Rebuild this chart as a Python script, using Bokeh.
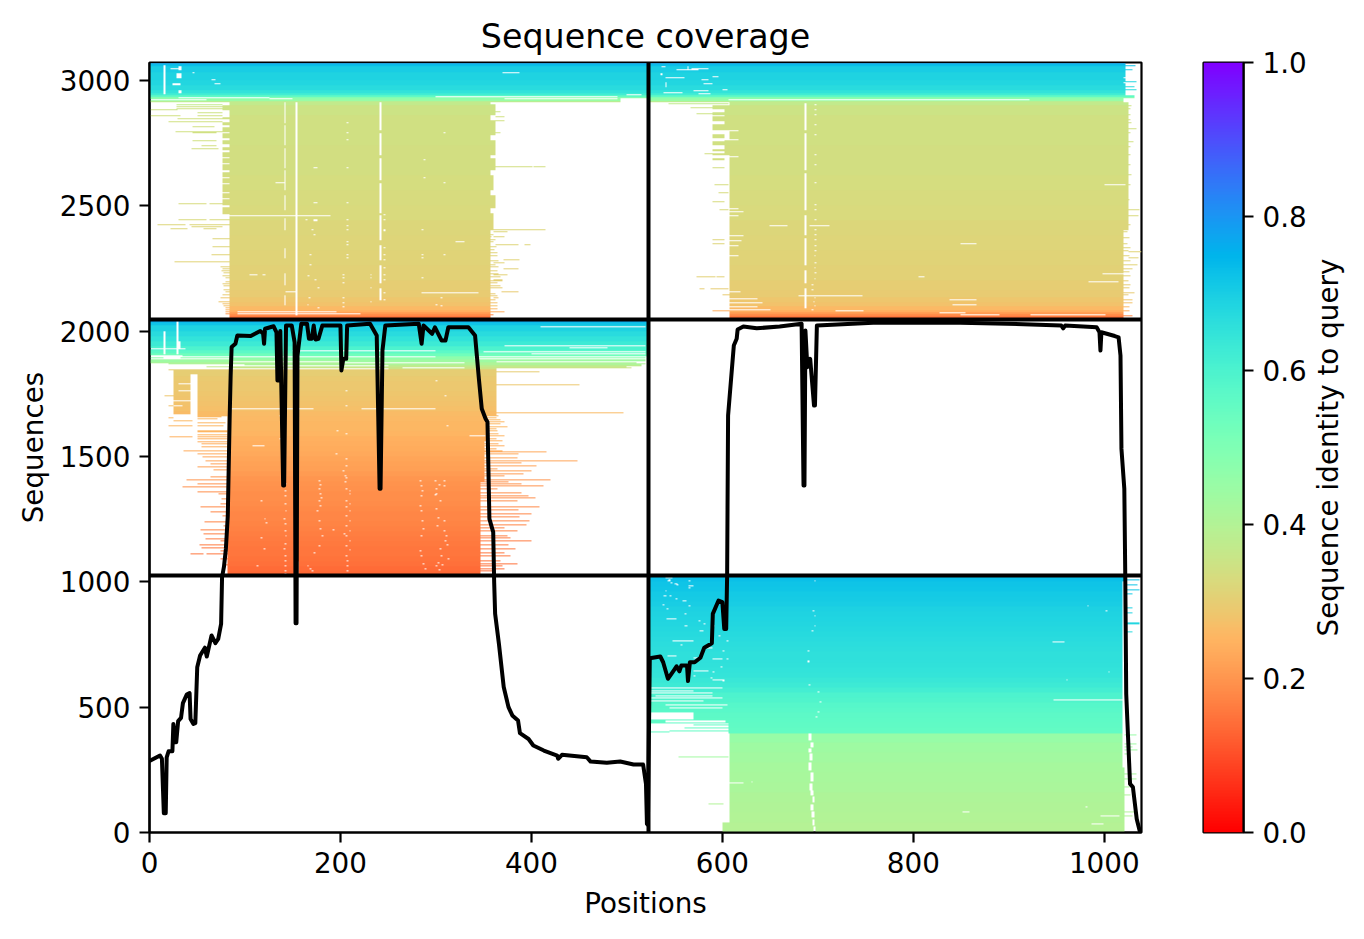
import math

import numpy as np
from bokeh.core.properties import value
from bokeh.embed import file_html
from bokeh.layouts import row
from bokeh.models import FixedTicker, LinearAxis, LinearColorMapper, Range1d
from bokeh.plotting import figure
from bokeh.resources import INLINE

N_POSITIONS = 1039
N_SEQUENCES = 3072
ROW_STEP = 4  # one picture pixel is about four sequences

X_TICKS = [0, 200, 400, 600, 800, 1000]
Y_TICKS = [0, 500, 1000, 1500, 2000, 2500, 3000]
BAR_TICKS = [0.0, 0.2, 0.4, 0.6, 0.8, 1.0]

CHAIN_BREAKS = [523]
CLUSTER_BREAKS = [1024, 2046]

# identity of the sequences, per band of rows (upper edge of band, identity)
BAND_TOP_A = [40, 80, 120, 160, 200, 240, 280, 320, 360, 396,
              420, 440, 460, 480, 500, 520, 540, 560, 580, 600, 620, 640, 660, 680, 700, 720, 740, 760, 780,
              800, 820, 840, 860, 880, 900, 920, 940, 960, 980, 1000, 1024]
BAND_ID_A = [.395, .40, .405, .41, .415, .42, .425, .43, .44, .455,
             .557, .56, .565, .57, .575, .58, .59, .60, .615, .63, .64, .645, .65, .655, .658, .66, .663, .666, .67,
             .673, .677, .68, .685, .69, .695, .70, .705, .71, .715, .72, .73]
BAND_TOP_B = [1040, 1060, 1080, 1100, 1120, 1140, 1160, 1180, 1200, 1220, 1240, 1260, 1280, 1300, 1320, 1340,
              1360, 1380, 1400, 1420, 1440, 1460, 1480, 1500, 1520, 1540, 1560, 1580, 1600, 1620, 1640,
              1660, 1680, 1700, 1720, 1740, 1760, 1780, 1800, 1820, 1848, 1856, 1864, 1876, 1888, 1900,
              1912, 1924, 1940, 1960, 1980, 2000, 2022, 2034, 2047]
BAND_ID_B = [.135, .14, .145, .15, .153, .156, .16, .163, .166, .17, .173, .176, .179, .182, .185, .188,
             .19, .193, .197, .203, .21, .215, .22, .226, .232, .237, .242, .246, .25, .254, .257,
             .26, .265, .27, .275, .28, .283, .286, .288, .29, .30, .35, .37, .41, .44, .47,
             .53, .57, .60, .63, .65, .67, .69, .72, .77]
BAND_TOP_C = [2055, 2062, 2070, 2080, 2095, 2110, 2130, 2160, 2200, 2260, 2320, 2380, 2440, 2500, 2560,
              2620, 2680, 2740, 2800, 2860, 2900, 2913, 2922, 2932, 2938, 2945, 2960, 2980, 3000, 3030,
              3056, 3062, 3067, 3072]
BAND_ID_C = [.15, .18, .21, .24, .26, .275, .285, .295, .30, .305, .31, .315, .32, .325, .33,
             .333, .336, .338, .34, .343, .35, .37, .45, .47, .56, .62, .65, .67, .68, .69,
             .70, .73, .77, .80]

# covered blocks: (first seq, last seq, first position, last position)
FILL_C = [
    (2940, 3071, 0, 1022), (2928, 2940, 0, 1032), (2913, 2928, 0, 493), (2913, 2928, 523, 1020),
    (2047, 2913, 84, 357), (2400, 2913, 607, 1025), (2047, 2400, 607, 1020),
    # rough left and right edges of the first chain
    (2880, 2900, 76, 84), (2846, 2855, 76, 84), (2820, 2835, 76, 84), (2795, 2815, 76, 84),
    (2770, 2790, 76, 84), (2745, 2762, 76, 84), (2720, 2735, 76, 84), (2695, 2712, 76, 84),
    (2670, 2690, 76, 84), (2640, 2665, 76, 84), (2615, 2635, 76, 84), (2590, 2608, 76, 84),
    (2555, 2585, 76, 84), (2530, 2548, 76, 84), (2500, 2525, 76, 84), (2465, 2495, 76, 84),
    (2860, 2905, 357, 362), (2780, 2840, 357, 362), (2700, 2760, 357, 362), (2640, 2690, 357, 362),
    (2560, 2620, 357, 360), (2490, 2540, 357, 362), (2400, 2470, 357, 360),
    # rough edges of the second chain
    (2886, 2900, 590, 602), (2862, 2875, 590, 602), (2836, 2856, 590, 602), (2800, 2826, 590, 602),
    (2769, 2786, 590, 602), (2740, 2756, 590, 602), (2716, 2724, 590, 602), (2700, 2710, 590, 602),
    (2680, 2690, 590, 602), (2648, 2652, 590, 602), (2800, 2900, 602, 607), (2700, 2760, 602, 607),
]

# single rows of sequences that stick out: (seq, first position, last position)
ROWS_C = [
    (2900, 28, 76), (2892, 28, 76), (2884, 28, 76),
    (2880, 1, 29), (2871, 50, 76), (2859, 1, 32), (2859, 50, 76), (2847, 29, 76), (2835, 20, 76),
    (2815, 45, 68), (2795, 27, 76), (2791, 45, 70), (2759, 45, 70), (2739, 54, 70), (2727, 44, 72),
    (2507, 30, 60), (2507, 63, 84), (2440, 30, 60), (2440, 63, 90), (2420, 8, 38), (2420, 42, 84),
    (2412, 44, 76), (2404, 22, 40), (2404, 57, 70), (2364, 66, 84), (2332, 66, 84), (2300, 65, 84),
    (2275, 26, 84), (2252, 74, 84), (2244, 76, 84), (2236, 75, 84), (2228, 78, 84), (2218, 76, 84),
    (2208, 80, 84), (2195, 80, 84), (2184, 76, 84), (2176, 78, 84), (2160, 78, 84), (2152, 80, 84),
    (2140, 76, 84), (2128, 74, 84), (2112, 72, 84), (2104, 76, 84), (2096, 78, 84), (2088, 80, 84),
    (2080, 80, 84), (2074, 80, 92), (2064, 80, 92), (2056, 84, 92),
    (2875, 362, 368), (2853, 362, 372), (2837, 362, 372), (2790, 357, 368), (2655, 362, 401),
    (2655, 402, 415), (2400, 357, 415), (2392, 360, 375), (2375, 360, 372), (2343, 362, 386),
    (2343, 393, 399), (2281, 371, 388), (2270, 360, 372), (2244, 371, 387), (2222, 360, 375),
    (2200, 360, 370), (2152, 369, 387), (2130, 360, 366), (2072, 357, 372),
    (2380, 357, 360), (2372, 357, 358), (2360, 357, 362), (2352, 357, 360), (2332, 357, 363),
    (2320, 357, 361), (2308, 357, 364), (2296, 357, 365), (2276, 357, 366), (2262, 357, 362),
    (2252, 357, 366), (2236, 357, 364), (2226, 357, 366), (2212, 357, 368), (2196, 357, 370),
    (2188, 357, 364), (2176, 357, 368), (2168, 357, 370), (2144, 357, 362), (2136, 357, 364),
    (2120, 357, 362), (2108, 357, 364), (2096, 357, 365), (2084, 357, 364), (2060, 357, 360),
    (2906, 544, 606), (2890, 567, 590), (2866, 573, 590), (2707, 581, 590), (2583, 592, 606),
    (2551, 596, 606), (2515, 590, 602), (2483, 597, 606), (2363, 590, 602), (2347, 590, 602),
    (2212, 573, 593), (2212, 594, 602), (2164, 576, 581), (2164, 588, 606), (2140, 600, 607),
    (2079, 590, 607),
    (2898, 1025, 1029), (2884, 1025, 1028), (2860, 1025, 1027), (2840, 1025, 1028), (2828, 1025, 1029),
    (2806, 1025, 1034), (2790, 1025, 1028), (2755, 1025, 1031), (2735, 1025, 1027), (2700, 1025, 1028),
    (2660, 1025, 1027), (2620, 1025, 1029), (2580, 1025, 1028), (2520, 1025, 1026), (2480, 1025, 1037),
    (2459, 1022, 1036), (2420, 1025, 1028),
    (2312, 1025, 1040), (2288, 1025, 1036), (2260, 1020, 1035), (2150, 1020, 1032),
    (2120, 1020, 1030), (2092, 1020, 1026),
    (2392, 1020, 1024), (2368, 1020, 1026), (2344, 1020, 1024), (2330, 1020, 1027), (2316, 1020, 1025),
    (2296, 1020, 1026), (2276, 1020, 1028), (2244, 1020, 1030), (2232, 1020, 1026), (2216, 1020, 1027),
    (2196, 1020, 1025), (2180, 1020, 1028), (2168, 1020, 1026), (2140, 1020, 1025), (2108, 1020, 1030),
    (2076, 1020, 1026), (2056, 1020, 1030),
    (3056, 1022, 1033), (3040, 1022, 1030), (3008, 1022, 1032), (2995, 1022, 1034), (2975, 1022, 1032),
    (2960, 1022, 1034),
]

# holes in the coverage: (first seq, last seq, first position, last position)
GAPS_C = [
    # conserved gap columns
    (2060, 2915, 153, 155), (2800, 2915, 241, 243), (2700, 2790, 241, 243), (2600, 2690, 241, 243),
    (2470, 2590, 241, 243), (2360, 2460, 241, 243), (2280, 2340, 241, 243), (2190, 2260, 241, 243),
    (2120, 2170, 241, 243), (2830, 2915, 141, 142), (2740, 2820, 141, 142), (2650, 2730, 141, 142),
    (2560, 2640, 141, 142), (2480, 2540, 141, 142), (2400, 2450, 141, 142), (2290, 2330, 141, 142),
    (2180, 2230, 141, 142), (2100, 2140, 141, 142),
    (2800, 2910, 686, 688), (2640, 2790, 686, 688), (2480, 2630, 686, 688), (2380, 2460, 686, 688),
    (2260, 2370, 686, 688), (2190, 2240, 686, 688), (2090, 2170, 686, 688),
    # first chain, white rows
    (2456, 2460, 84, 190), (2074, 2078, 92, 196), (2064, 2068, 92, 221), (2150, 2154, 285, 345),
    (2152, 2156, 142, 153), (2590, 2594, 132, 141), (2353, 2357, 320, 330), (2223, 2227, 105, 113),
    (2223, 2227, 118, 122), (2436, 2444, 172, 176), (2510, 2514, 172, 176), (2650, 2654, 172, 176),
    (2930, 2934, 30, 126), (2924, 2928, 126, 150), (2932, 2936, 300, 490), (2924, 2928, 372, 490),
    (2920, 2924, 0, 60), (3030, 3034, 370, 388), (2940, 2944, 500, 515),
    # second chain, white rows
    (2922, 2926, 606, 922), (2419, 2423, 649, 668), (2419, 2423, 691, 712), (2347, 2351, 849, 866),
    (2136, 2140, 680, 747), (2192, 2196, 983, 1015), (2224, 2228, 998, 1020), (2120, 2124, 838, 866),
    (2100, 2104, 841, 866), (2068, 2072, 827, 855), (2060, 2064, 849, 890), (2060, 2064, 923, 1001),
    (2079, 2083, 718, 748), (2798, 2802, 606, 617), (2763, 2767, 606, 617), (2695, 2699, 606, 617),
    (2487, 2491, 606, 617), (2475, 2479, 606, 622), (2459, 2463, 606, 617), (2376, 2380, 606, 622),
    (2356, 2360, 606, 620), (2336, 2340, 606, 617), (2296, 2300, 606, 617), (2152, 2156, 606, 619),
    (2124, 2128, 606, 637), (2108, 2112, 608, 642), (2092, 2096, 608, 637), (2080, 2084, 606, 650),
    (2583, 2587, 1000, 1022), (2212, 2216, 805, 812),
    # scattered holes in the left end of the top block
    (2945, 3060, 15, 17), (3040, 3056, 30, 34), (3010, 3030, 28, 34), (2980, 2990, 24, 32),
    (2950, 2960, 30, 34), (3000, 3004, 65, 69), (2985, 2989, 68, 74), (3045, 3049, 22, 30),
    (3030, 3034, 45, 47), (3052, 3056, 536, 540), (3040, 3044, 552, 575), (3045, 3049, 568, 585),
    (3010, 3014, 540, 560), (3000, 3004, 578, 585), (2985, 2989, 580, 590), (2950, 2954, 538, 558),
    (2945, 2949, 575, 588), (2960, 2964, 600, 605), (3020, 3030, 535, 537), (2975, 2995, 540, 542),
    (3040, 3056, 563, 565), (3015, 3019, 590, 596), (2958, 2962, 570, 585),
    (3050, 3054, 1024, 1033), (3010, 3014, 1020, 1032), (2990, 2994, 1020, 1032),
]

# one pixel holes: (seq, position)
DOTS_C = [
    (2900, 697), (2880, 697), (2860, 697), (2820, 697), (2780, 697), (2700, 697), (2660, 697), (2590, 697),
    (2500, 697), (2480, 697), (2440, 697), (2400, 697), (2380, 697), (2360, 697), (2336, 697), (2316, 697),
    (2296, 696), (2270, 697), (2248, 696), (2230, 697), (2205, 696), (2180, 693), (2160, 693), (2130, 696),
    (2112, 695), (2096, 696), (2080, 693),
    (2830, 206), (2790, 206), (2760, 206), (2650, 206), (2510, 206), (2440, 206), (2416, 206), (2400, 206),
    (2352, 206), (2340, 206), (2300, 206), (2290, 206), (2220, 202), (2210, 202), (2190, 202), (2130, 202),
    (2110, 202), (2095, 202),
    (2220, 231), (2210, 231), (2170, 231), (2112, 231), (2460, 245), (2440, 245), (2400, 245), (2396, 245),
    (2330, 245), (2300, 245), (2280, 245), (2250, 245), (2220, 245), (2200, 245), (2150, 245), (2120, 245),
    (2400, 285), (2300, 285), (2288, 285), (2210, 285), (2130, 305), (2096, 305), (2300, 308), (2590, 308),
    (2790, 308), (2610, 287), (2680, 287), (2100, 300), (2440, 163), (2400, 170), (2380, 172), (2300, 168),
    (2260, 168), (2216, 166), (2200, 173), (2170, 176), (2130, 167), (2100, 165), (2088, 176),
]

FILL_B = [
    (1900, 2047, 0, 523), (1850, 1900, 84, 363),
    (1663, 1850, 50, 363), (1560, 1663, 82, 354), (1400, 1560, 82, 351), (1024, 1400, 82, 347),
    (1670, 1845, 25, 43), (1830, 1845, 25, 50),
]

ROWS_B = [
    (1892, 0, 330), (1884, 0, 290), (1880, 0, 520), (1876, 0, 300), (1872, 0, 510), (1868, 20, 520),
    (1864, 0, 515), (1860, 40, 510), (1856, 60, 500), (1852, 100, 505), (1886, 350, 520),
    (1892, 360, 520), (1870, 350, 515), (1862, 350, 515),
    (1846, 20, 50), (1838, 363, 408), (1786, 363, 450), (1672, 363, 496), (1740, 16, 25),
    (1700, 20, 25), (1655, 20, 25),
    # left edge, below the block
    (1676, 50, 81), (1668, 50, 81), (1659, 50, 75), (1650, 50, 71), (1643, 25, 45), (1634, 50, 80),
    (1623, 20, 45), (1623, 50, 78), (1603, 50, 82), (1596, 50, 82), (1586, 50, 82), (1577, 21, 45),
    (1577, 50, 82), (1570, 50, 82), (1559, 50, 82), (1550, 54, 82), (1537, 54, 82), (1522, 36, 82),
    (1510, 50, 82), (1497, 55, 82), (1483, 59, 82), (1470, 64, 82), (1456, 50, 82), (1444, 67, 82),
    (1417, 64, 82), (1406, 39, 82), (1390, 50, 82), (1377, 35, 82), (1357, 50, 82), (1297, 53, 80),
    (1277, 64, 82), (1237, 58, 82), (1204, 53, 82), (1191, 57, 82), (1171, 59, 82), (1147, 52, 82),
    (1134, 54, 82), (1111, 43, 57), (1111, 60, 82), (1091, 74, 82), (1065, 78, 82), (1350, 72, 82),
    (1330, 75, 82), (1310, 74, 82), (1260, 76, 82), (1220, 78, 82), (1160, 74, 82), (1120, 74, 82),
    # right edge, below the block
    (1660, 354, 366), (1652, 354, 363), (1644, 354, 368), (1636, 354, 372), (1628, 354, 368),
    (1618, 354, 375), (1610, 354, 363), (1600, 354, 365), (1590, 354, 366), (1580, 354, 372),
    (1570, 354, 363), (1560, 354, 370), (1550, 351, 366), (1540, 351, 372), (1530, 351, 363),
    (1520, 351, 370), (1516, 351, 416), (1508, 351, 386), (1493, 351, 385), (1480, 351, 448),
    (1472, 351, 390), (1460, 351, 405), (1450, 351, 365), (1440, 351, 400), (1430, 351, 392),
    (1405, 351, 420), (1388, 347, 390), (1380, 347, 413), (1355, 347, 390), (1340, 347, 397),
    (1332, 347, 404), (1320, 347, 385), (1296, 347, 408), (1284, 347, 386), (1270, 347, 400),
    (1256, 347, 388), (1240, 347, 398), (1226, 347, 395), (1200, 347, 385), (1180, 347, 375),
    (1160, 347, 400), (1130, 347, 383), (1100, 347, 378), (1070, 347, 385), (1060, 347, 370),
    (1040, 347, 362), (1050, 347, 372), (1080, 347, 368), (1115, 347, 372), (1145, 347, 376),
    (1172, 347, 378), (1212, 347, 372), (1368, 347, 364), (1396, 347, 376), (1420, 351, 372),
]

GAPS_B = [
    (1910, 2000, 15, 17), (1910, 2040, 28, 30), (1935, 1960, 30, 32), (1890, 1900, 15, 32),
    (2019, 2023, 410, 520), (1942, 1946, 372, 520), (1933, 1937, 440, 480), (1930, 1934, 0, 38),
    (1920, 1924, 150, 300), (1916, 1920, 350, 520), (1908, 1912, 400, 520), (1900, 1904, 0, 35),
    (1898, 1902, 340, 520), (1896, 1900, 85, 300), (1890, 1894, 410, 520), (1888, 1892, 340, 415),
    (1878, 1882, 85, 200), (1874, 1878, 200, 330), (1866, 1870, 0, 100), (1860, 1864, 40, 250),
    (1854, 1858, 265, 330), (1850, 1854, 60, 250), (1848, 1852, 100, 230),
    (1688, 1692, 85, 172), (1688, 1692, 222, 300), (1580, 1584, 335, 352), (1540, 1544, 108, 120),
    (1790, 1794, 30, 43), (1760, 1764, 30, 43), (1720, 1724, 25, 43), (1700, 1704, 25, 35),
    (1024, 1080, 153, 156),
]

DOTS_B = [
    (1800, 300), (1760, 205), (1740, 309), (1700, 205), (1660, 136), (1620, 311), (1600, 196), (1590, 205),
    (1570, 136), (1510, 195), (1490, 205), (1460, 205), (1440, 202), (1420, 204), (1412, 205), (1396, 204),
    (1370, 205), (1360, 209), (1350, 209), (1320, 205), (1310, 209), (1296, 205), (1280, 209), (1260, 205),
    (1240, 209), (1220, 205), (1200, 209), (1180, 205), (1160, 209), (1140, 205), (1124, 209), (1100, 205),
    (1080, 206), (1060, 206), (1040, 206),
    (1400, 177), (1385, 178), (1370, 177), (1350, 178), (1335, 179), (1320, 177), (1300, 178), (1280, 175),
    (1240, 177), (1210, 178), (1180, 180), (1140, 177), (1115, 172), (1060, 165), (1050, 168), (1040, 170),
    (1390, 141), (1360, 141), (1340, 141), (1310, 141), (1280, 142), (1250, 140), (1230, 141), (1200, 141),
    (1180, 142), (1150, 141), (1130, 140), (1100, 141), (1080, 141), (1060, 141), (1040, 141), (1030, 141),
    (1400, 283), (1380, 284), (1360, 285), (1340, 284), (1300, 283), (1280, 284), (1240, 285), (1210, 286),
    (1180, 284), (1120, 283), (1100, 284), (1070, 286), (1050, 288),
    (1400, 299), (1385, 303), (1370, 300), (1345, 299), (1320, 304), (1290, 300), (1255, 302), (1220, 301),
    (1180, 310), (1160, 309), (1130, 304), (1100, 305), (1075, 302), (1060, 300), (1045, 303),
    (1400, 308), (1380, 308), (1350, 300), (1240, 308), (1200, 308), (1145, 311), (1090, 312), (1065, 306),
    (1320, 116), (1250, 120), (1235, 122), (1175, 116), (1130, 119), (1060, 112), (1205, 192), (1190, 203),
]

FILL_A = [
    (600, 1024, 523, 1019), (396, 600, 606, 1019), (0, 396, 607, 1018), (436, 600, 523, 606),
    (0, 40, 600, 607), (1000, 1024, 1019, 1023), (0, 260, 1015, 1021), (260, 396, 1015, 1019),
]

ROWS_A = [
    (300, 554, 606), (114, 586, 601), (400, 523, 545), (404, 545, 606), (418, 560, 606), (428, 570, 606),
    (1006, 1023, 1037), (985, 1023, 1035), (965, 1023, 1037), (950, 1023, 1030), (892, 1023, 1030),
    (875, 1023, 1030), (832, 1023, 1037), (828, 1023, 1037), (798, 1023, 1030),
    (390, 1021, 1034), (355, 1021, 1034), (340, 1021, 1030), (330, 1021, 1035), (315, 1021, 1028),
    (232, 1021, 1034), (212, 1021, 1034), (180, 1021, 1026), (150, 1021, 1028), (80, 1021, 1034),
    (65, 1021, 1030),
]

GAPS_A = [
    (370, 396, 690, 693), (340, 362, 692, 695), (320, 336, 690, 693), (290, 316, 691, 694),
    (250, 282, 690, 693), (205, 240, 692, 695), (170, 198, 691, 694), (150, 168, 692, 695),
    (120, 145, 694, 697), (90, 115, 692, 695), (60, 85, 693, 696), (30, 55, 694, 697), (0, 25, 695, 698),
    (757, 761, 946, 958), (529, 533, 947, 1021), (82, 86, 851, 859), (66, 70, 996, 1016),
    (34, 38, 987, 999), (198, 202, 607, 622),
    # stripes at the left end of the second chain
    (576, 580, 523, 600), (566, 570, 523, 570), (556, 560, 523, 590), (546, 550, 530, 590),
    (536, 540, 523, 600), (526, 530, 523, 580), (510, 514, 540, 605), (498, 502, 545, 600),
    (453, 480, 523, 570), (442, 450, 540, 603),
    # scattered holes in the same part
    (1000, 1004, 543, 546), (990, 994, 550, 553), (980, 984, 565, 570), (940, 944, 538, 541),
    (920, 924, 558, 562), (890, 894, 541, 544), (850, 854, 542, 552), (820, 824, 560, 564),
    (800, 804, 576, 580), (760, 764, 548, 570), (735, 739, 580, 590), (700, 704, 543, 552),
    (695, 699, 570, 578), (690, 694, 590, 600), (645, 649, 570, 586), (610, 614, 590, 602),
    (1015, 1019, 540, 548),
]

DOTS_A = [
    (1005, 544), (995, 546), (985, 552), (1000, 565), (975, 565), (960, 540), (940, 545), (930, 551),
    (905, 537), (900, 565), (880, 590), (870, 560), (850, 548), (840, 575), (828, 580), (822, 590),
    (780, 596), (760, 604), (745, 556), (720, 600), (690, 604), (660, 598), (640, 590), (625, 570),
    (616, 588), (605, 600), (1000, 696), (880, 694), (860, 696), (820, 696), (800, 693), (720, 689),
    (680, 689), (880, 1001), (610, 960), (590, 690), (560, 700), (520, 702), (480, 700), (460, 698),
    (900, 982), (640, 1004), (200, 630), (100, 980),
]

# black coverage line: number of non-gap sequences per position
COVER_X = [1, 11, 13, 15, 17, 18, 20, 24, 25, 27, 28, 30, 33, 35, 39, 42, 43, 46, 48, 50, 53, 58, 60, 65, 69, 72,
           75, 76, 78, 80, 82, 84, 85, 86, 90, 92, 106, 116, 119, 120, 121, 130, 133, 134, 136, 137, 140, 141,
           143, 149, 152, 153, 154, 155, 159, 165, 167, 170, 172, 174, 177, 181, 200, 201, 203, 206, 207,
           231, 238, 241, 242, 244, 247, 282, 285, 287, 296, 299, 306, 310, 313, 334, 341, 345, 348, 352,
           354, 356, 360, 361, 362, 366, 371, 376, 380, 386, 388, 397, 402, 413, 427, 428, 432, 458, 462,
           479, 493, 507, 517, 520, 521, 522, 524, 535, 538, 543, 549, 552, 555, 557, 563, 564, 566, 571,
           577, 581, 589, 590, 596, 600, 602, 604, 605, 606, 612, 615, 616, 622, 636, 660, 683, 685, 686,
           687, 689, 692, 696, 697, 699, 758, 849, 898, 955, 957, 959, 992, 995, 996, 997, 1011, 1015, 1017,
           1018, 1021, 1022, 1023, 1027, 1030, 1034, 1037]
COVER_Y = [287, 307, 294, 77, 77, 300, 324, 324, 433, 360, 360, 444, 457, 516, 550, 556, 453, 433, 436, 659, 706,
           737, 702, 786, 755, 772, 832, 1018, 1060, 1131, 1264, 1663, 1823, 1936, 1949, 1982, 1980, 2000,
           1990, 1949, 2009, 2019, 1995, 1803, 1803, 2000, 1384, 1384, 2022, 2022, 1955, 835, 835, 1902, 2029,
           2029, 1969, 1969, 2022, 1966, 1969, 2022, 2022, 1843, 1889, 1889, 2022, 2029, 1982, 1371, 1371,
           1922, 2022, 2029, 1949, 2022, 1989, 2015, 1962, 1962, 2015, 2015, 1982, 1809, 1690, 1650, 1637,
           1251, 1198, 998, 872, 752, 580, 500, 467, 447, 396, 373, 347, 327, 307, 294, 310, 300, 283, 278,
           283, 271, 271, 194, 34, 30, 695, 702, 679, 613, 646, 663, 643, 666, 666, 604, 679, 679, 697, 737,
           755, 872, 925, 919, 812, 812, 1025, 1663, 1942, 1969, 2006, 2018, 2011, 2018, 2029, 1384, 1384,
           2002, 1856, 1889, 1703, 1703, 2022, 2033, 2033, 2029, 2022, 2011, 2022, 2015, 1995, 1922, 1995,
           1980, 1975, 1902, 1530, 1371, 1025, 553, 194, 181, 54, 8]

FONT = "DejaVu Sans"
TICK_SIZE = "27.8px"


def rainbow_r(v):
    # reversed matplotlib rainbow
    t = 1 - v
    return (min(1, abs(2 * t - 0.5)), math.sin(math.pi * t), math.cos(math.pi * t / 2))


palette = []
for i in range(256):
    r, g, b = rainbow_r(i / 255)
    palette.append("#%02x%02x%02x" % (round(r * 255), round(g * 255), round(b * 255)))
mapper = LinearColorMapper(palette=palette, low=0, high=1, nan_color=(0, 0, 0, 0))

# identity of each row of the picture
band_top = np.array(BAND_TOP_A + BAND_TOP_B + BAND_TOP_C)
band_id = np.array(BAND_ID_A + BAND_ID_B + BAND_ID_C)
n_rows = N_SEQUENCES // ROW_STEP
row_seq = np.arange(n_rows) * ROW_STEP
row_id = band_id[np.minimum(np.searchsorted(band_top, row_seq, side="right"), len(band_id) - 1)]

covered = np.zeros((n_rows, N_POSITIONS), dtype=bool)


def mark(blocks, value_):
    for y0, y1, x0, x1 in blocks:
        r0 = y0 // ROW_STEP
        r1 = max(r0 + 1, y1 // ROW_STEP)
        covered[r0:r1, x0:x1] = value_


mark(FILL_A + FILL_B + FILL_C, True)
mark([(y, y + ROW_STEP, x0, x1) for y, x0, x1 in ROWS_A + ROWS_B + ROWS_C], True)
mark(GAPS_A + GAPS_B + GAPS_C, False)
# two columns wide, a single one gets lost when the image is scaled
mark([(y, y + ROW_STEP, x, x + 2) for y, x in DOTS_A + DOTS_B + DOTS_C], False)

msa = np.where(covered, row_id[:, None], np.nan).astype(np.float32)

p = figure(title="Sequence coverage", frame_width=992, frame_height=770,
           x_range=Range1d(0, N_POSITIONS), y_range=Range1d(0, N_SEQUENCES - 1),
           x_axis_label="Positions", y_axis_label="Sequences",
           min_border_left=149, min_border_right=20, min_border_top=62, min_border_bottom=85,
           output_backend="svg", toolbar_location=None)
p.image(image=[msa], x=0, y=0, dw=N_POSITIONS, dh=N_SEQUENCES, color_mapper=mapper)
p.vspan(x=CHAIN_BREAKS, line_color="black", line_width=4)
p.hspan(y=CLUSTER_BREAKS, line_color="black", line_width=4)
p.line(COVER_X, COVER_Y, line_color="black", line_width=4, line_join="round", line_cap="round")

p.grid.visible = False
p.title.align = "center"
p.title.text_font = FONT
p.title.text_font_size = "33.3px"
p.title.text_font_style = "normal"
p.title.text_color = "black"
p.title.standoff = 14
p.outline_line_color = "black"
p.outline_line_width = 2.2
p.xaxis.ticker = FixedTicker(ticks=X_TICKS)
p.yaxis.ticker = FixedTicker(ticks=Y_TICKS)

# second figure only for the colour scale
bar = figure(frame_width=40, frame_height=770, x_range=Range1d(0, 1), y_range=Range1d(0, 1),
             x_axis_location=None, y_axis_location=None,
             min_border_left=42, min_border_right=55, min_border_top=62, min_border_bottom=85,
             output_backend="svg", toolbar_location=None)
bar.image(image=[np.linspace(0, 1, 256).reshape(256, 1)], x=0, y=0, dw=1, dh=1, color_mapper=mapper)
bar.grid.visible = False
bar.outline_line_color = "black"
bar.outline_line_width = 2.2
bar_axis = LinearAxis(ticker=FixedTicker(ticks=BAR_TICKS))
bar.add_layout(bar_axis, "right")

# axis label on the right reads downwards in bokeh, this one has to read upwards,
# so it gets a narrow empty figure of its own
side = figure(frame_width=38, frame_height=770, x_range=Range1d(0, 1), y_range=Range1d(0, 1),
              x_axis_location=None, y_axis_location=None,
              min_border_left=0, min_border_right=0, min_border_top=62, min_border_bottom=85,
              outline_line_color=None, output_backend="svg", toolbar_location=None)
side.grid.visible = False
side.text(x=[0.5], y=[0.5], text=["Sequence identity to query"], angle=math.pi / 2,
          text_align="center", text_baseline="middle", text_font=value(FONT),
          text_font_size=value(TICK_SIZE), text_color="black")

for ax in [p.xaxis[0], p.yaxis[0], bar_axis]:
    ax.axis_line_color = "black"
    ax.axis_line_width = 2.2
    ax.major_tick_line_color = "black"
    ax.major_tick_line_width = 2.2
    ax.major_tick_in = 0
    ax.major_tick_out = 10
    ax.minor_tick_out = 0
    ax.minor_tick_in = 0
    ax.major_label_text_font = FONT
    ax.major_label_text_font_size = TICK_SIZE
    ax.major_label_text_color = "black"
    ax.major_label_standoff = 9
    ax.axis_label_text_font = FONT
    ax.axis_label_text_font_size = TICK_SIZE
    ax.axis_label_text_font_style = "normal"
    ax.axis_label_text_color = "black"
p.yaxis[0].axis_label_standoff = 7
p.xaxis[0].axis_label_standoff = 11
bar_axis.major_label_overrides = {t: "%.1f" % t for t in BAR_TICKS}

page = row(p, bar, side)
open("out.html", "w").write(file_html(page, INLINE))
